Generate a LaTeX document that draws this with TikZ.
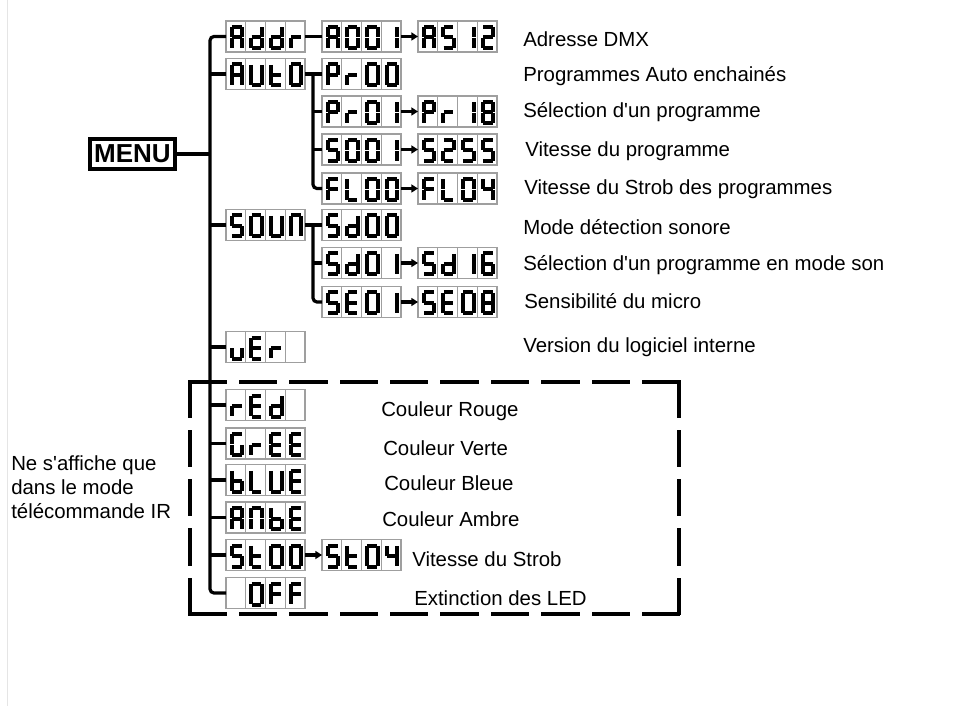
\documentclass[tikz,border=0pt]{standalone}
\usepackage{fontspec}
\setmainfont{Liberation Sans}
\usetikzlibrary{arrows.meta, calc}
\tikzset{>=Latex}

\begin{document}
\begin{tikzpicture}[x=0.75pt, y=-0.75pt]

         %%%%%%%%%%%%%%%%%%%%%%%%%%%%%%%%%%%%%%%%%%%%%%%%%%%%%%%%%%%%%%%%%%%%%%
         % Parameter
         %%%%%%%%%%%%%%%%%%%%%%%%%%%%%%%%%%%%%%%%%%%%%%%%%%%%%%%%%%%%%%%%%%%%%%
         \def\cellw{19.75}
         \def\trunkx{210}
         \def\subx{313}
         \def\colA{226}
         \def\colB{322}
         \def\colC{418}

         \useasboundingbox (0,0) rectangle (972,706);

         % Stile
         \tikzset{
            tree/.style={line width=2.4pt},
            nextarrow/.style={line width=2.4pt, -{Triangle[length=5pt,width=6pt]}},
            lcdbox/.style={draw=gray!75, line width=0.8pt, minimum width=59.25pt,
               minimum height=23.25pt, inner sep=0pt, outer sep=0pt, anchor=west},
            lcdgrid/.style={draw=gray!75, line width=0.8pt},
            lcdseg/.style={line width=3pt, line cap=butt, shorten <=0.35pt, shorten >=0.35pt},
            menubox/.style={draw, line width=2.5pt, minimum width=63.75pt, minimum height=22.5pt,
               inner sep=0pt, font=\fontsize{19.5}{19.5}\selectfont\bfseries},
            desc/.style={anchor=base west, inner sep=0pt, font=\fontsize{15.3}{18}\selectfont},
            irbox/.style={line width=2.3pt, line cap=rect}
         }

         %%%%%%%%%%%%%%%%%%%%%%%%%%%%%%%%%%%%%%%%%%%%%%%%%%%%%%%%%%%%%%%%%%%%%%
         % 7-Segment-Anzeige
         %%%%%%%%%%%%%%%%%%%%%%%%%%%%%%%%%%%%%%%%%%%%%%%%%%%%%%%%%%%%%%%%%%%%%%
         \def\lcdsega{\draw[lcdseg] (5.5,6) -- (16,6);}
         \def\lcdsegb{\draw[lcdseg] (16,6) -- (16,16.5);}
         \def\lcdsegc{\draw[lcdseg] (16,16.5) -- (16,27);}
         \def\lcdsegd{\draw[lcdseg] (5.5,27) -- (16,27);}
         \def\lcdsege{\draw[lcdseg] (5.5,16.5) -- (5.5,27);}
         \def\lcdsegf{\draw[lcdseg] (5.5,6) -- (5.5,16.5);}
         \def\lcdsegg{\draw[lcdseg] (5.5,16.5) -- (16,16.5);}
         \def\lcdsegz{}

         \def\lcddef#1#2{\expandafter\def\csname lcdc#1\endcsname{#2}}
         \lcddef{0}{a,b,c,d,e,f}
         \lcddef{O}{a,b,c,d,e,f}
         \lcddef{1}{b,c}
         \lcddef{2}{a,b,g,e,d}
         \lcddef{4}{f,g,b,c}
         \lcddef{5}{a,f,g,c,d}
         \lcddef{S}{a,f,g,c,d}
         \lcddef{6}{a,f,g,e,d,c}
         \lcddef{8}{a,b,c,d,e,f,g}
         \lcddef{A}{a,b,c,e,f,g}
         \lcddef{d}{b,c,d,e,g}
         \lcddef{r}{e,g}
         \lcddef{u}{c,d,e}
         \lcddef{U}{b,c,d,e,f}
         \lcddef{t}{f,g,e,d}
         \lcddef{N}{a,b,c,e,f}
         \lcddef{P}{a,b,f,g,e}
         \lcddef{E}{a,f,g,e,d}
         \lcddef{F}{a,f,g,e}
         \lcddef{L}{f,e,d}
         \lcddef{G}{a,f,e,d,c}
         \lcddef{b}{f,g,e,d,c}
         \lcddef{x}{z}

         % ein Zeichen in einer Zelle
         \def\lcdglyph#1#2#3{%
            \begin{scope}[shift={(#1,#2)}]
               \edef\seglist{\csname lcdc#3\endcsname}%
               \foreach \s in \seglist {\csname lcdseg\s\endcsname}
            \end{scope}}

         % Anzeige mit vier Zellen: Name, x, y, Zeichen
         \def\lcd#1#2#3#4{%
            \node[lcdbox] (#1) at (#2,#3) {};
            \foreach \k in {1,2,3} {\draw[lcdgrid] (#2+\k*\cellw,#3-15.5) -- ++(0,31);}
            \foreach \ch [count=\i from 0] in {#4} {\lcdglyph{#2+\i*\cellw}{#3-15.5}{\ch}}
         }

         %%%%%%%%%%%%%%%%%%%%%%%%%%%%%%%%%%%%%%%%%%%%%%%%%%%%%%%%%%%%%%%%%%%%%%
         % Rahmen links und IR-Bereich
         %%%%%%%%%%%%%%%%%%%%%%%%%%%%%%%%%%%%%%%%%%%%%%%%%%%%%%%%%%%%%%%%%%%%%%
         \draw[gray!20, line width=0.75pt] (7,0) -- (7,706);

         \coordinate (irNW) at (190,382);
         \coordinate (irNE) at (679,382);
         \coordinate (irSW) at (190,614);
         \coordinate (irSE) at (679,614);
         \draw[irbox, dash pattern=on 26.5pt off 11.3pt] (irNW) -- (irNE);
         \draw[irbox, dash pattern=on 26.5pt off 11.3pt] (irSW) -- (irSE);
         \draw[irbox, dash pattern=on 25.7pt off 11.3pt] (irNW) -- (irSW);
         \draw[irbox, dash pattern=on 25.7pt off 11.3pt] (irNE) -- (irSE);

         %%%%%%%%%%%%%%%%%%%%%%%%%%%%%%%%%%%%%%%%%%%%%%%%%%%%%%%%%%%%%%%%%%%%%%
         % Anzeigen
         %%%%%%%%%%%%%%%%%%%%%%%%%%%%%%%%%%%%%%%%%%%%%%%%%%%%%%%%%%%%%%%%%%%%%%
         \node[menubox] (menu) at (132.5,154) {MENU};

         \lcd{Addr}{\colA}{36.5}{A,d,d,r}
         \lcd{A001}{\colB}{36.5}{A,0,0,1}
         \lcd{AS12}{\colC}{36.5}{A,S,1,2}

         \lcd{AUtO}{\colA}{74}{A,U,t,O}
         \lcd{Pr00}{\colB}{74}{P,r,0,0}
         \lcd{Pr01}{\colB}{111.5}{P,r,0,1}
         \lcd{Pr18}{\colC}{111.5}{P,r,1,8}
         \lcd{S001}{\colB}{149.5}{S,0,0,1}
         \lcd{S255}{\colC}{149.5}{S,2,5,5}
         \lcd{FL00}{\colB}{188.5}{F,L,0,0}
         \lcd{FL04}{\colC}{188.5}{F,L,0,4}

         \lcd{SOUN}{\colA}{225}{S,O,U,N}
         \lcd{Sd00}{\colB}{225}{S,d,0,0}
         \lcd{Sd01}{\colB}{263}{S,d,0,1}
         \lcd{Sd16}{\colC}{263}{S,d,1,6}
         \lcd{SE01}{\colB}{302}{S,E,0,1}
         \lcd{SE08}{\colC}{302}{S,E,0,8}

         \lcd{uEr}{\colA}{347}{u,E,r,x}

         \lcd{rEd}{\colA}{405}{r,E,d,x}
         \lcd{GrEE}{\colA}{443.5}{G,r,E,E}
         \lcd{bLUE}{\colA}{480}{b,L,U,E}
         \lcd{ANbE}{\colA}{517.5}{A,N,b,E}
         \lcd{St00}{\colA}{555}{S,t,0,0}
         \lcd{St04}{\colB}{555}{S,t,0,4}
         \lcd{OFF}{\colA}{593}{x,O,F,F}

         %%%%%%%%%%%%%%%%%%%%%%%%%%%%%%%%%%%%%%%%%%%%%%%%%%%%%%%%%%%%%%%%%%%%%%
         % Baum
         %%%%%%%%%%%%%%%%%%%%%%%%%%%%%%%%%%%%%%%%%%%%%%%%%%%%%%%%%%%%%%%%%%%%%%
         \coordinate (trunk) at (\trunkx,154);
         \draw[tree] (menu) -- (trunk);
         \draw[tree, rounded corners=3pt] (Addr) -| (trunk) |- (OFF);
         \foreach \n in {AUtO,SOUN,uEr,rEd,GrEE,bLUE,ANbE,St00}
            \draw[tree] (\n) -- (\n -| trunk);

         % AUTO
         \coordinate (autoT) at (\subx,74);
         \draw[tree] (AUtO) -- (Pr00);
         \draw[tree, rounded corners=3pt] (autoT) |- (FL00);
         \foreach \n in {Pr01,S001}
            \draw[tree] (\n) -- (\n -| autoT);

         % SOUN
         \coordinate (sounT) at (\subx,225);
         \draw[tree] (SOUN) -- (Sd00);
         \draw[tree, rounded corners=3pt] (sounT) |- (SE01);
         \draw[tree] (Sd01) -- (Sd01 -| sounT);

         % Bereiche
         \draw[tree] (Addr) -- (A001);
         \draw[nextarrow] (A001) -- (AS12);
         \draw[nextarrow] (Pr01) -- (Pr18);
         \draw[nextarrow] (S001) -- (S255);
         \draw[nextarrow] (FL00) -- (FL04);
         \draw[nextarrow] (Sd01) -- (Sd16);
         \draw[nextarrow] (SE01) -- (SE08);
         \draw[nextarrow] (St00) -- (St04);

         %%%%%%%%%%%%%%%%%%%%%%%%%%%%%%%%%%%%%%%%%%%%%%%%%%%%%%%%%%%%%%%%%%%%%%
         % Beschriftungen
         %%%%%%%%%%%%%%%%%%%%%%%%%%%%%%%%%%%%%%%%%%%%%%%%%%%%%%%%%%%%%%%%%%%%%%
         \node[desc] (tAddr) at (523,46.5)  {Adresse DMX};
         \node[desc] (tAuto) at (523,82)    {Programmes Auto enchainés};
         \node[desc] (tPr)   at (523,118)   {Sélection d\textquotesingle un programme};
         \node[desc] (tSp)   at (525,156.5) {Vitesse du programme};
         \node[desc] (tFL)   at (524,194.5) {Vitesse du Strob des programmes};
         \node[desc] (tSoun) at (523,235)   {Mode détection sonore};
         \node[desc] (tSd)   at (523,270.5) {Sélection d\textquotesingle un programme en mode son};
         \node[desc] (tSE)   at (524,309)   {Sensibilité du micro};
         \node[desc] (tVer)  at (523,352.5) {Version du logiciel interne};

         \node[desc] (tRed)  at (381,416.5) {Couleur Rouge};
         \node[desc] (tGrn)  at (383,455)   {Couleur Verte};
         \node[desc] (tBlu)  at (384,490.5) {Couleur Bleue};
         \node[desc] (tAmb)  at (382,526)   {Couleur Ambre};
         \node[desc] (tStr)  at (412,566.5) {Vitesse du Strob};
         \node[desc] (tOff)  at (414,605)   {Extinction des LED};

         \node[desc, anchor=north west, align=left] (tIR) at (11,455)
            {Ne s\textquotesingle affiche que\\dans le mode\\télécommande IR};

\end{tikzpicture}
\end{document}
